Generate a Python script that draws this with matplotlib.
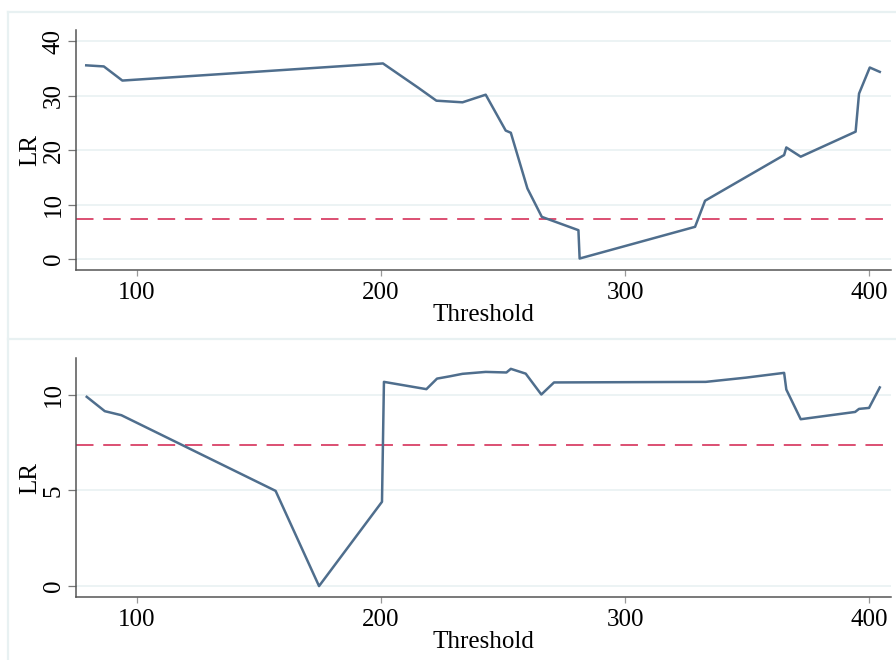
import numpy as np
import matplotlib
matplotlib.use("Agg")
import matplotlib.pyplot as plt
from matplotlib.lines import Line2D

# === Data ===

# Top panel: LR statistic by threshold
top_threshold = [79.2, 86.4, 94.0, 200.8, 215.2, 222.7, 233.4, 242.9, 251.1, 253.2,
                 260.0, 265.9, 280.9, 281.4, 328.7, 332.8, 365.2, 366.1, 372.0,
                 394.5, 395.9, 400.3, 404.4]
top_lr = [35.6, 35.4, 32.8, 35.95, 31.5, 29.1, 28.8, 30.2, 23.6, 23.2,
          12.95, 7.73, 5.28, 0.07, 5.9, 10.7, 19.1, 20.5, 18.8,
          23.4, 30.4, 35.2, 34.4]

# Bottom panel: LR statistic by threshold
bottom_threshold = [79.4, 86.8, 93.6, 156.8, 174.6, 200.4, 201.2, 218.6, 222.95, 228.2,
                    233.4, 242.9, 251.4, 253.2, 259.3, 265.7, 270.9, 333.1, 349.5,
                    365.2, 366.1, 372.0, 394.3, 395.9, 400.0, 404.4]
bottom_lr = [9.88, 9.13, 8.92, 4.97, 0.0, 4.40, 10.66, 10.28, 10.83, 10.95,
             11.08, 11.18, 11.15, 11.34, 11.09, 10.0, 10.63, 10.66, 10.88,
             11.13, 10.26, 8.71, 9.09, 9.25, 9.30, 10.37]

critical_value = 7.35

top_yticks = [0, 10, 20, 30, 40]
bottom_yticks = [0, 5, 10]
xticks = [100, 200, 300, 400]

# === Styling ===
LINE_COLOR = "#4f6e8d"
DASH_COLOR = "#dc4f72"
GRID_COLOR = "#eaf2f3"
FRAME_COLOR = "#e8f1f2"
SPINE_COLOR = "#555555"
FONT = "Liberation Serif"
FS = 18

plt.rcParams["font.family"] = [FONT, "DejaVu Serif"]

fig = plt.figure(figsize=(8.96, 6.6), dpi=100)

# light graph-region frames (Stata style)
W, H = 896.0, 660.0
frame_lines = [
    ([7.5 / W, 7.5 / W], [0.0, 1 - 12 / H]),
    ([7.5 / W, 1.0], [1 - 12 / H, 1 - 12 / H]),
    ([7.5 / W, 1.0], [1 - 339 / H, 1 - 339 / H]),
]
for xs, ys in frame_lines:
    fig.add_artist(Line2D(xs, ys, transform=fig.transFigure, color=FRAME_COLOR, lw=1.6))


def style_panel(ax, yticks, ylim):
    ax.set_xlim(75, 409)
    ax.set_ylim(*ylim)
    ax.set_xticks(xticks)
    ax.set_yticks(yticks)
    ax.grid(axis="y", color=GRID_COLOR, lw=1.3)
    ax.set_axisbelow(True)
    for side in ["top", "right"]:
        ax.spines[side].set_visible(False)
    for side in ["left", "bottom"]:
        ax.spines[side].set_color(SPINE_COLOR)
        ax.spines[side].set_linewidth(1.1)
    ax.tick_params(axis="y", direction="out", length=6, width=0.9, color="#777777",
                   labelsize=FS, pad=2)
    ax.tick_params(axis="x", direction="out", length=4, width=0.9, color="#999999",
                   labelsize=FS, pad=5)
    for lab in ax.get_yticklabels():
        lab.set_rotation(90)
        lab.set_va("center")
    ax.set_xlabel("Threshold", fontsize=FS, labelpad=0)
    ax.set_ylabel("LR", fontsize=FS, labelpad=1)


ax1 = fig.add_axes([76 / W, 1 - 269.5 / H, (891 - 76) / W, (269.5 - 30) / H])
ax1.plot(top_threshold, top_lr, color=LINE_COLOR, lw=1.8, zorder=3)
ax1.axhline(critical_value, color=DASH_COLOR, lw=1.4, dashes=(9, 5), zorder=2)
style_panel(ax1, top_yticks, (-1.95, 42.1))

ax2 = fig.add_axes([76 / W, 1 - 597 / H, (891 - 76) / W, (597 - 358.5) / H])
ax2.plot(bottom_threshold, bottom_lr, color=LINE_COLOR, lw=1.8, zorder=3)
ax2.axhline(critical_value, color=DASH_COLOR, lw=1.4, dashes=(9, 5), zorder=2)
style_panel(ax2, bottom_yticks, (-0.57, 11.88))

fig.savefig("out.png", dpi=100)
plt.close(fig)
